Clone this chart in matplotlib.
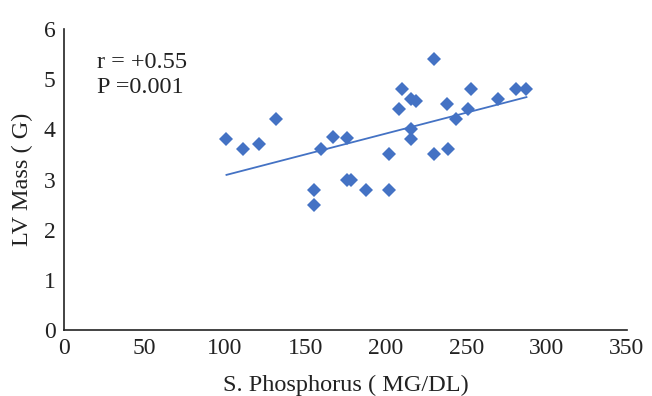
import matplotlib.pyplot as plt
import numpy as np

plt.rcParams['font.family'] = ['Liberation Serif', 'DejaVu Serif']

# serum phosphorus (mg/dl) vs LV mass (g)
phosphorus = [101, 111, 121, 132, 155.5, 155.5, 159.5, 167.5, 176, 176, 178.5,
              188, 202, 202, 208, 210, 216, 219, 216, 216, 230, 230,
              238, 239, 244, 251, 253, 270, 281, 287.5]
lv_mass = [3.8, 3.6, 3.7, 4.2, 2.8, 2.5, 3.6, 3.84, 3.82, 3.0, 3.0,
           2.8, 3.5, 2.8, 4.4, 4.8, 4.6, 4.57, 4.0, 3.8, 5.4, 3.5,
           4.5, 3.6, 4.2, 4.4, 4.8, 4.6, 4.8, 4.8]

x_ticks = [0, 50, 100, 150, 200, 250, 300, 350]
y_ticks = [0, 1, 2, 3, 4, 5, 6]

blue = '#4472C4'
ink = '#222222'

fig = plt.figure(figsize=(6.52, 3.96), dpi=100)
ax = fig.add_axes([64 / 652, 66 / 396, 563 / 652, 301 / 396])

x = np.array(phosphorus)
y = np.array(lv_mass)
ax.plot(x, y, 'D', color=blue, markersize=7, markeredgewidth=0, clip_on=False)

# linear trendline
k, b = np.polyfit(x, y, 1)
xs = np.array([x.min(), x.max()])
ax.plot(xs, k * xs + b, color=blue, linewidth=1.3)

ax.set_xlim(0, 350)
ax.set_ylim(0, 6)
ax.set_xticks(x_ticks)
ax.set_yticks(y_ticks)
ax.tick_params(length=0, labelsize=17, pad=6, colors=ink)

for side in ['top', 'right']:
    ax.spines[side].set_visible(False)
for side in ['left', 'bottom']:
    ax.spines[side].set_color(ink)
    ax.spines[side].set_linewidth(1.2)

ax.set_xlabel('S. Phosphorus ( MG/DL)', fontsize=17.5, color=ink, labelpad=11)
ax.set_ylabel('LV Mass ( G)', fontsize=17.5, color=ink, labelpad=8)

ax.text(0.058, 0.925, 'r = +0.55\nP =0.001', transform=ax.transAxes,
        fontsize=17.5, va='top', ha='left', linespacing=1.3, color=ink)

fig.savefig('out.png', dpi=100)
